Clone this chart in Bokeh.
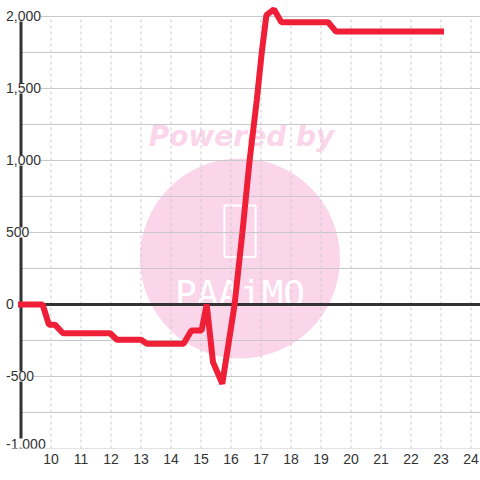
from bokeh.plotting import figure
from bokeh.models import Range1d, FixedTicker
from bokeh.embed import file_html
from bokeh.resources import INLINE
from bokeh.core.properties import value

# ---- data ----
hours = [9, 9.72, 9.93, 10.13, 10.4, 11.97, 12.2, 13.0, 13.2, 14.42, 14.68, 15.02,
         15.19, 15.4, 15.71, 16.12, 16.38, 16.62, 16.86, 17.02, 17.18, 17.43, 17.68,
         19.24, 19.5, 23]
pnl = [0, 0, -140, -140, -200, -200, -245, -245, -273, -273, -180, -180,
       0, -400, -550, 0, 500, 1000, 1420, 1740, 2010, 2050, 1960,
       1960, 1895, 1895]
x_ticks = [10, 11, 12, 13, 14, 15, 16, 17, 18, 19, 20, 21, 22, 23, 24]
y_label_ticks = [-1000, -500, 0, 500, 1000, 1500, 2000]
y_grid_ticks = [-1000, -750, -500, -250, 0, 250, 500, 750, 1000, 1250, 1500, 1750, 2000]
watermark_text = "Powered by"
logo_text = "PAAiMO"

LINE_RED = "#ee1f36"
PINK = "#fbd5ea"
AXIS_DARK = "#333333"
GRID = "#cccccc"

X0, X1 = 8.3167, 24.3167
Y0, Y1 = -1000, 2111.1

p = figure(width=480, height=480, output_backend="svg", toolbar_location=None,
           x_range=Range1d(X0, X1), y_range=Range1d(Y0, Y1),
           y_axis_location=None,
           min_border_left=0, min_border_right=0, min_border_top=0, min_border_bottom=32)
p.outline_line_color = None
p.background_fill_color = "white"
p.border_fill_color = "white"
p.grid.visible = False

# x axis (labels only)
p.xaxis.ticker = FixedTicker(ticks=x_ticks)
p.xaxis.axis_line_color = None
p.xaxis.major_tick_line_color = None
p.xaxis.minor_tick_line_color = None
p.xaxis.major_tick_out = 0
p.xaxis.major_tick_in = 0
p.xaxis.major_label_standoff = 5
p.xaxis.major_label_text_font = "Liberation Sans"
p.xaxis.major_label_text_font_size = "14px"
p.xaxis.major_label_text_color = AXIS_DARK

# watermark (behind the grid)
p.scatter(x=[16.3], y=[320], size=200, marker="circle",
          fill_color=PINK, line_color=None)
p.text(x=[16.35], y=[1167], text=[watermark_text], text_font=value("DejaVu Sans"),
       text_font_style="bold italic", text_font_size="28px", text_color=PINK,
       text_align="center", text_baseline="alphabetic")
p.quad(left=[15.78], right=[16.82], top=[687], bottom=[329], fill_color=None,
       line_color="white", line_width=2)
p.text(x=[16.3], y=[75], text=[logo_text], text_font=value("DejaVu Sans Mono"),
       text_font_size="36px", text_color="white", text_align="center",
       text_baseline="alphabetic")

# grid lines
y_top, y_bot = max(y_label_ticks), min(y_label_ticks)
p.segment(x0=x_ticks, x1=x_ticks, y0=[y_bot] * len(x_ticks), y1=[y_top] * len(x_ticks),
          line_color=GRID, line_width=1, line_dash="3 3")
p.segment(x0=[9] * len(y_grid_ticks), x1=[X1] * len(y_grid_ticks),
          y0=y_grid_ticks, y1=y_grid_ticks, line_color="#c8c8c8", line_width=1)

# axis line and zero line
p.segment(x0=[9], x1=[9], y0=[y_bot], y1=[y_top], line_color=AXIS_DARK, line_width=3)
p.segment(x0=[9], x1=[X1], y0=[0], y1=[0], line_color=AXIS_DARK, line_width=3)

# the series
p.line(hours, pnl, line_color=LINE_RED, line_width=6, line_join="bevel", line_cap="square")

# y labels sitting on the axis line, with white boxes
p.text(x=[9] * len(y_label_ticks), y=y_label_ticks,
       text=[f"{v:,}" for v in y_label_ticks],
       x_offset=-15,
       y_offset=[-5 if v == y_bot else 0 for v in y_label_ticks],
       text_align="left", text_baseline="middle",
       text_font=value("Liberation Sans"), text_font_size="14px",
       text_color=AXIS_DARK, background_fill_color="white")

open("out.html", "w").write(file_html(p, INLINE))
